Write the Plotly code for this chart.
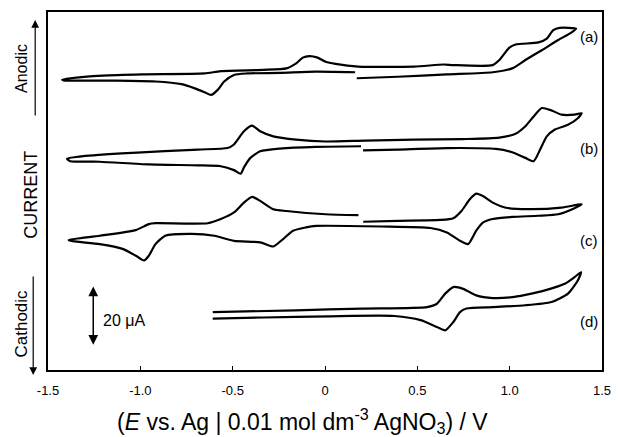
import plotly.graph_objects as go

# ---- data (potential in V, current in µA on an offset scale) ----
potential_a = [0.163, -0.049, -0.245, -0.422, -0.493, -0.546, -0.581, -0.617, -0.652, -0.705,
               -0.777, -0.918, -1.131, -1.309, -1.415, -1.423, -1.379, -1.202, -0.989, -0.652,
               -0.564, -0.333, -0.209, -0.156, -0.120, -0.085, -0.040, 0.004, 0.057, 0.181,
               0.482, 0.642, 0.695, 0.908, 0.944, 0.997, 1.032, 1.156, 1.201, 1.236,
               1.271, 1.360, 1.334, 1.263, 1.174, 1.085, 1.014, 0.908, 0.660, 0.394, 0.172]
current_a = [99.8, 100.0, 99.6, 99.4, 98.9, 96.7, 93.9, 92.2, 93.1, 94.4,
             95.8, 96.7, 97.0, 97.0, 97.1, 97.3, 97.8, 98.7, 99.1, 99.4,
             100.2, 100.6, 101.1, 102.8, 104.7, 105.2, 104.7, 103.3, 102.6, 101.7,
             101.7, 102.4, 102.2, 102.2, 103.9, 108.0, 109.1, 109.8, 111.1, 113.9,
             114.7, 114.4, 113.1, 110.6, 107.2, 103.9, 101.1, 99.8, 99.1, 98.3, 97.8]

potential_b = [0.195, -0.049, -0.245, -0.351, -0.404, -0.438, -0.457, -0.493, -0.564, -0.688,
               -0.954, -1.220, -1.379, -1.397, -1.309, -1.043, -0.688, -0.528, -0.493, -0.439,
               -0.395, -0.351, -0.280, -0.156, 0.004, 0.216, 0.482, 0.748, 0.944, 1.032,
               1.085, 1.130, 1.174, 1.227, 1.280, 1.351, 1.390, 1.369, 1.316, 1.245,
               1.201, 1.165, 1.130, 1.085, 1.014, 0.926, 0.660, 0.394, 0.206]
current_b = [75.0, 74.8, 74.2, 73.3, 71.1, 68.0, 65.8, 67.0, 68.3, 68.6,
             68.9, 69.8, 70.0, 70.8, 71.7, 72.8, 73.9, 74.4, 75.6, 80.0,
             81.9, 80.0, 78.3, 77.2, 76.6, 76.9, 77.2, 77.4, 77.9, 79.2,
             81.7, 85.0, 87.8, 87.0, 85.6, 85.6, 86.1, 84.4, 82.2, 80.6,
             78.3, 73.9, 70.0, 71.1, 73.0, 74.1, 74.4, 73.9, 73.6]

potential_c = [0.207, 0.394, 0.624, 0.695, 0.739, 0.784, 0.819, 0.855, 0.908, 0.979,
               1.103, 1.280, 1.390, 1.351, 1.263, 1.156, 1.014, 0.908, 0.855, 0.819,
               0.775, 0.731, 0.660, 0.571, 0.305, -0.049, -0.103, -0.173, -0.227, -0.280,
               -0.351, -0.493, -0.599, -0.723, -0.865, -0.918, -0.954, -0.980, -1.024, -1.096,
               -1.220, -1.379, -1.388, -1.220, -1.024, -0.954, -0.918, -0.635, -0.564, -0.493,
               -0.439, -0.395, -0.351, -0.280, -0.209, 0.004, 0.181]
current_c = [49.7, 50.0, 50.3, 50.9, 53.3, 57.2, 59.1, 58.3, 56.1, 54.4,
             53.9, 54.4, 55.6, 54.2, 52.2, 51.7, 51.3, 50.6, 49.4, 46.7,
             42.2, 43.3, 46.1, 47.6, 48.1, 48.3, 47.8, 46.7, 43.9, 41.4,
             42.8, 43.3, 45.0, 45.6, 45.0, 42.2, 38.3, 36.7, 38.3, 40.6,
             42.2, 43.3, 43.6, 45.0, 46.9, 48.9, 49.2, 49.2, 50.6, 52.8,
             56.1, 58.0, 56.7, 53.9, 53.3, 52.2, 51.9]

potential_d = [-0.608, -0.156, 0.199, 0.553, 0.606, 0.651, 0.695, 0.748, 0.819, 0.908,
               1.014, 1.085, 1.191, 1.298, 1.351, 1.387, 1.369, 1.316, 1.227, 1.085,
               0.908, 0.766, 0.731, 0.695, 0.651, 0.606, 0.518, 0.376, 0.021, -0.333, -0.608]
current_d = [19.4, 20.0, 20.6, 21.1, 22.2, 25.6, 27.8, 27.2, 25.0, 24.1,
             24.4, 25.2, 26.7, 28.9, 31.1, 32.8, 30.0, 25.6, 22.8, 21.7,
             21.1, 20.6, 19.4, 16.1, 13.3, 14.4, 16.7, 18.1, 18.0, 17.6, 17.2]

curve_labels = ["(a)", "(b)", "(c)", "(d)"]
label_currents = [111.7, 74.4, 43.3, 16.1]
x_tick_values = [-1.5, -1.0, -0.5, 0, 0.5, 1.0, 1.5]
x_tick_text = ["-1.5", "-1.0", "-0.5", "0", "0.5", "1.0", "1.5"]
scale_bar_uA = 20
scale_bar_base = 8

FONT = "Liberation Sans, Arial, sans-serif"

fig = go.Figure()
for xs, ys in [(potential_a, current_a), (potential_b, current_b),
               (potential_c, current_c), (potential_d, current_d)]:
    fig.add_trace(go.Scatter(x=xs, y=ys, mode="lines",
                             line=dict(color="black", width=2.2, shape="spline", smoothing=0.6),
                             showlegend=False, hoverinfo="skip"))

annotations = []
for lab, yv in zip(curve_labels, label_currents):
    annotations.append(dict(x=1.371, y=yv, xref="x", yref="y", text=lab, showarrow=False,
                            xanchor="left", yanchor="middle",
                            font=dict(family=FONT, size=15, color="black")))

# scale bar
annotations.append(dict(x=-1.255, y=scale_bar_base + scale_bar_uA, xref="x", yref="y",
                        ax=-1.255, ay=scale_bar_base, axref="x", ayref="y", text="",
                        showarrow=True, arrowhead=2, arrowside="end+start",
                        arrowsize=1.3, arrowwidth=1.5, arrowcolor="black"))
annotations.append(dict(x=-1.214, y=scale_bar_base + scale_bar_uA / 2 - 1.3, xref="x", yref="y",
                        text="20 \u03bcA", showarrow=False, xanchor="left", yanchor="middle",
                        font=dict(family=FONT, size=16, color="black")))

# left side labels and arrows
annotations.append(dict(x=-0.0231, y=0.978, xref="paper", yref="paper", ax=0, ay=97,
                        text="", showarrow=True, arrowhead=2, arrowsize=1.3, arrowwidth=1.2,
                        arrowcolor="black"))
annotations.append(dict(x=-0.0267, y=-0.014, xref="paper", yref="paper", ax=0, ay=-100,
                        text="", showarrow=True, arrowhead=2, arrowsize=1.3, arrowwidth=1.2,
                        arrowcolor="black"))
annotations.append(dict(x=-0.048, y=0.842, xref="paper", yref="paper", text="Anodic",
                        textangle=-90, showarrow=False, xanchor="center", yanchor="middle",
                        font=dict(family=FONT, size=16, color="black")))
annotations.append(dict(x=-0.031, y=0.489, xref="paper", yref="paper", text="CURRENT",
                        textangle=-90, showarrow=False, xanchor="center", yanchor="middle",
                        font=dict(family=FONT, size=18, color="black")))
annotations.append(dict(x=-0.048, y=0.131, xref="paper", yref="paper", text="Cathodic",
                        textangle=-90, showarrow=False, xanchor="center", yanchor="middle",
                        font=dict(family=FONT, size=17, color="black")))

# x-axis title
annotations.append(dict(x=0.46, y=-0.142, xref="paper", yref="paper",
                        text="(<i>E</i> vs. Ag | 0.01 mol dm<sup>-3</sup> AgNO<sub>3</sub>) / V",
                        showarrow=False, xanchor="center", yanchor="middle",
                        font=dict(family=FONT, size=23, color="black")))

fig.update_layout(
    width=621, height=437,
    margin=dict(l=48, r=10, t=10, b=67),
    paper_bgcolor="white", plot_bgcolor="white",
    annotations=annotations,
    font=dict(family=FONT, color="black"),
)
fig.update_xaxes(range=[-1.5, 1.5], tickvals=x_tick_values, ticktext=x_tick_text,
                 ticks="inside", ticklen=4, tickwidth=1, tickcolor="black",
                 showline=True, linewidth=2, linecolor="black", mirror=True,
                 showgrid=False, zeroline=False, ticklabelstandoff=7,
                 tickfont=dict(family=FONT, size=13, color="black"))
fig.update_yaxes(range=[0, 120], showticklabels=False, ticks="",
                 showline=True, linewidth=2, linecolor="black", mirror=True,
                 showgrid=False, zeroline=False)

fig.write_html("out.html", config={"displayModeBar": False},
               post_script="document.body.style.margin='0';")
